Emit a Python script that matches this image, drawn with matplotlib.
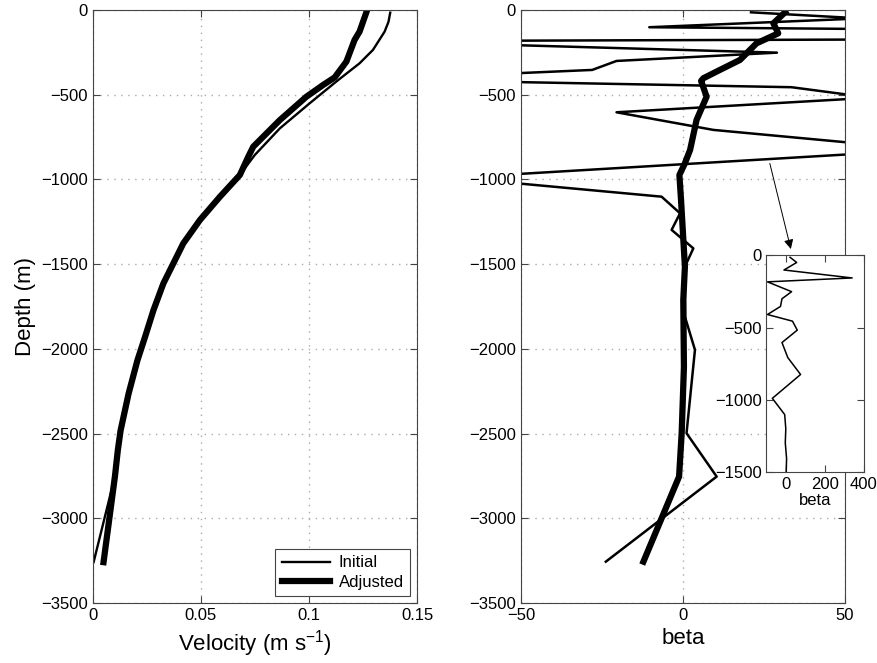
import matplotlib
matplotlib.use('Agg')
import matplotlib.pyplot as plt

plt.rcParams['font.family'] = ['Liberation Sans', 'DejaVu Sans']
plt.rcParams['mathtext.default'] = 'regular'

# velocity profiles (left panel)
vel_init_depth = [-16, -70, -128, -236, -315, -423, -551, -699, -856, -974, -1102,
                  -1240, -1378, -1496, -1614, -1772, -1930, -2067, -2264, -2481, -2599, -2750, -3259]
vel_init = [0.1376, 0.1368, 0.135, 0.1296, 0.1234, 0.1126, 0.1003, 0.0865, 0.0749, 0.068, 0.0588,
            0.0495, 0.0418, 0.0372, 0.0326, 0.028, 0.0241, 0.0206, 0.0165, 0.0128, 0.0115, 0.0102, 0.0003]

vel_adj_depth = [-16, -128, -177, -305, -398, -443, -512, -650, -807, -866, -974, -1102,
                 -1240, -1378, -1496, -1614, -1772, -1930, -2067, -2264, -2481, -2599, -2750, -3259]
vel_adj = [0.1265, 0.1234, 0.1211, 0.1173, 0.1119, 0.1065, 0.0988, 0.0865, 0.0742, 0.0719, 0.068,
           0.0588, 0.0495, 0.0418, 0.0372, 0.0326, 0.028, 0.0241, 0.0206, 0.0165, 0.0128, 0.0115,
           0.0102, 0.0049]

# beta profiles (right panel + inset)
beta_init_depth = [-14, -50, -102, -157, -184, -252, -301, -354, -410, -456, -518, -604, -708,
                   -825, -990, -1102, -1200, -1298, -1407, -1515, -1810, -2006, -2498, -2754, -3256]
beta_init = [21, 55, -10.4, 340, -95, 29, -20.5, -28, -95, 33.5, 58, -20.5, 9.4,
             75, -70, -6.6, -0.9, -3.5, 3.2, 0.6, 0.6, 3.7, 1.1, 10.4, -23.8]

beta_adj_depth = [-14, -79, -138, -197, -295, -354, -403, -419, -512, -649, -826, -905, -974,
                  -1120, -1515, -1711, -2106, -2498, -2754, -3256]
beta_adj = [31.5, 27.9, 29.4, 22.7, 17.6, 11.4, 6.3, 5.6, 7.3, 4.2, 2.2, 0.6, -1.1,
            -0.6, 0.6, 0.1, 0.3, -0.4, -1.2, -12.2]

depth_ticks = [0, -500, -1000, -1500, -2000, -2500, -3000, -3500]


def style_axes(ax, grid=True):
    for s in ax.spines.values():
        s.set_color('#444444')
        s.set_linewidth(0.8)
    ax.tick_params(direction='in', length=5, width=0.8, color='#444444',
                   top=True, right=True, labelsize=12)
    if grid:
        ax.grid(True, linestyle=(0, (1, 4)), color='#aaaaaa', linewidth=1.0)


fig = plt.figure(figsize=(8.77, 6.63), dpi=100)

# left panel
ax1 = fig.add_axes([0.106, 0.0905, 0.3695, 0.8945])
ax1.plot(vel_init, vel_init_depth, color='k', lw=1.7, label='Initial')
ax1.plot(vel_adj, vel_adj_depth, color='k', lw=4.5, label='Adjusted')
ax1.set_xlim(0, 0.15)
ax1.set_ylim(-3500, 0)
ax1.set_xticks([0, 0.05, 0.1, 0.15])
ax1.set_xticklabels(['0', '0.05', '0.1', '0.15'])
ax1.set_yticks(depth_ticks)
ax1.set_xlabel('Velocity (m s$^{-1}$)', fontsize=16, labelpad=4)
ax1.set_ylabel('Depth (m)', fontsize=16, labelpad=4)
style_axes(ax1)
leg = ax1.legend(loc='lower right', fontsize=12, fancybox=False, framealpha=1,
                 edgecolor='#444444', handlelength=2.9, borderaxespad=0.4,
                 labelspacing=0.25, handletextpad=0.5)
leg.get_frame().set_linewidth(0.8)

# right panel
ax2 = fig.add_axes([0.594, 0.0905, 0.3695, 0.8945])
ax2.plot(beta_init, beta_init_depth, color='k', lw=1.8)
ax2.plot(beta_adj, beta_adj_depth, color='k', lw=4.5)
ax2.set_xlim(-50, 50)
ax2.set_ylim(-3500, 0)
ax2.set_xticks([-50, 0, 50])
ax2.set_yticks(depth_ticks)
ax2.set_xlabel('beta', fontsize=16, labelpad=4)
style_axes(ax2)

# arrow pointing at inset
ax2.annotate('', xy=(33.5, -1427), xytext=(26.6, -890),
             arrowprops=dict(arrowstyle='-|>', color='k', lw=0.7, mutation_scale=14))

# inset with full range of initial beta
ax3 = fig.add_axes([0.874, 0.288, 0.111, 0.327])
ax3.plot(beta_init, beta_init_depth, color='k', lw=1.1)
ax3.set_xlim(-100, 400)
ax3.set_ylim(-1500, 0)
ax3.set_xticks([0, 200, 400])
ax3.set_yticks([0, -500, -1000, -1500])
ax3.set_xlabel('beta', fontsize=12, labelpad=1)
style_axes(ax3, grid=False)

fig.savefig('out.png', dpi=100)
